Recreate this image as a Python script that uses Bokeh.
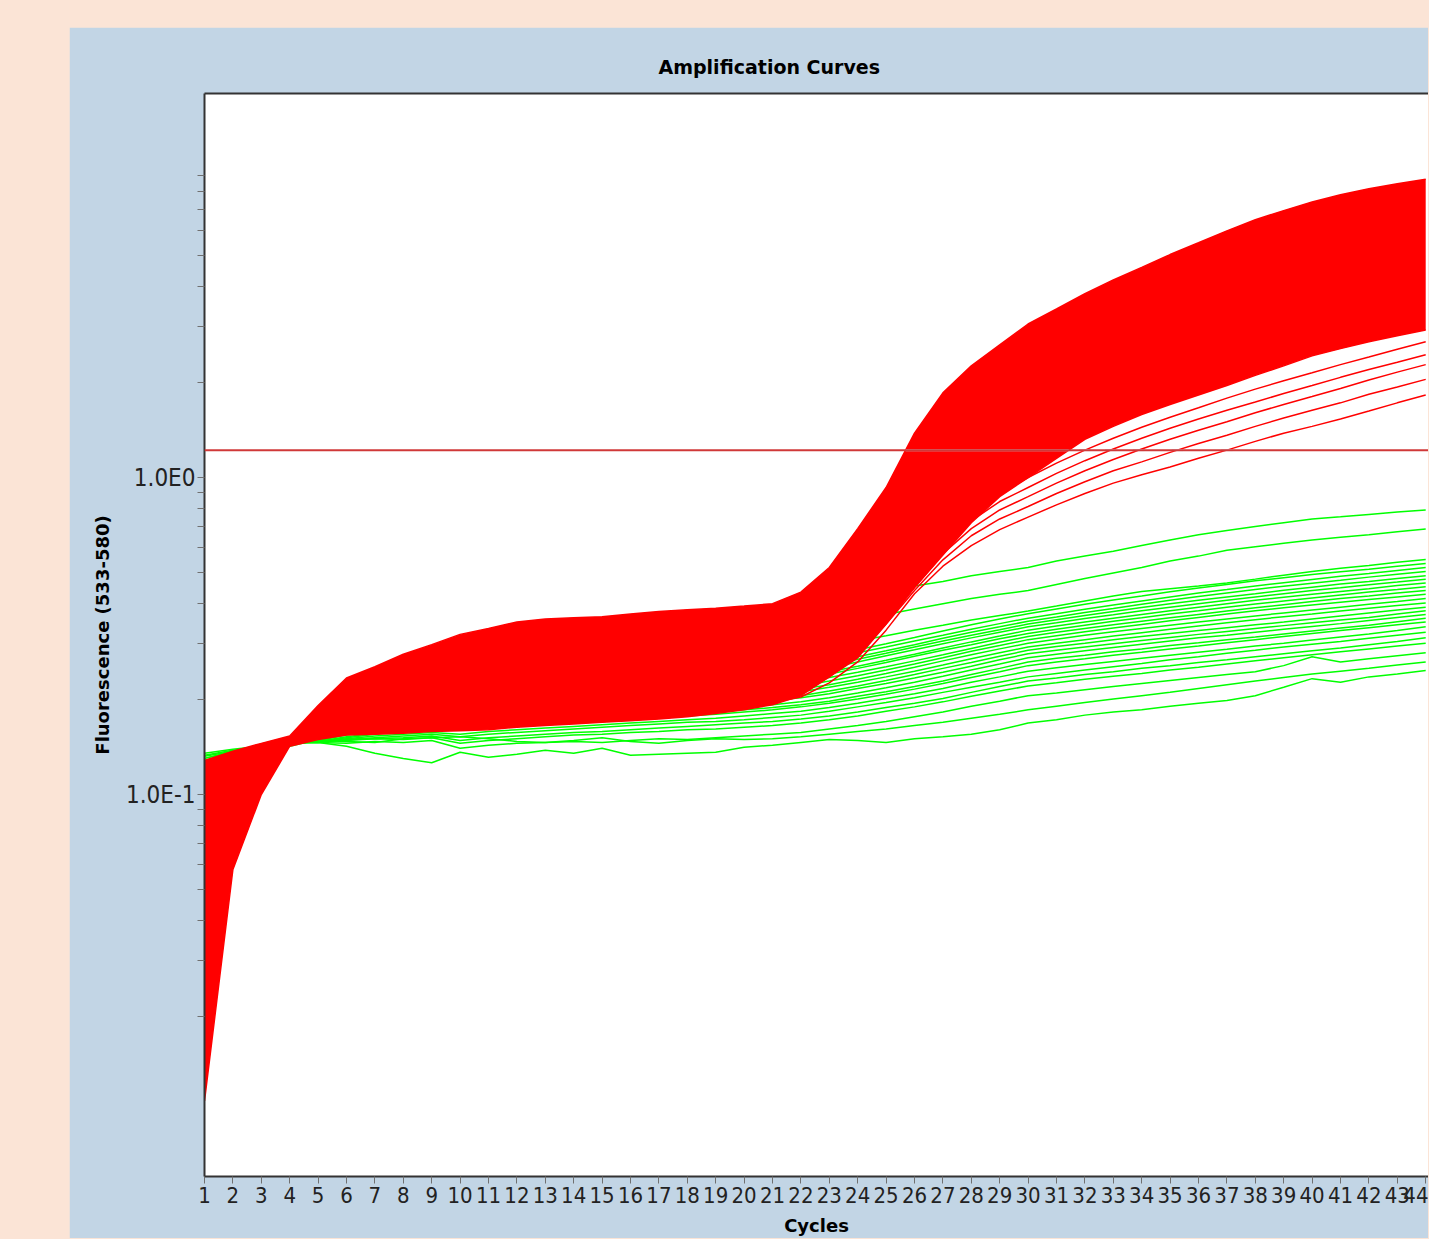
import numpy as np
from bokeh.plotting import figure
from bokeh.models import Range1d, FixedTicker, Span, LinearAxis
from bokeh.embed import file_html
from bokeh.resources import INLINE

# ---------------- data ----------------
cycles = list(range(1, 45))

# dense band of positive samples (upper / lower envelope)
red_upper = [0.128, 0.137, 0.145, 0.153, 0.191, 0.233, 0.253, 0.277, 0.297, 0.320,
             0.334, 0.350, 0.358, 0.361, 0.364, 0.371, 0.378, 0.383, 0.387, 0.393,
             0.400, 0.435, 0.520, 0.690, 0.930, 1.380, 1.850, 2.250, 2.620, 3.050,
             3.400, 3.800, 4.200, 4.600, 5.050, 5.500, 6.000, 6.500, 6.950, 7.400,
             7.800, 8.150, 8.450, 8.720]
red_lower = [0.0108, 0.058, 0.100, 0.142, 0.149, 0.154, 0.155, 0.156, 0.158, 0.159,
             0.160, 0.163, 0.165, 0.167, 0.169, 0.171, 0.173, 0.176, 0.180, 0.185,
             0.192, 0.205, 0.235, 0.270, 0.345, 0.450, 0.570, 0.720, 0.870, 1.000,
             1.150, 1.320, 1.450, 1.580, 1.700, 1.820, 1.950, 2.100, 2.250, 2.420,
             2.550, 2.680, 2.800, 2.920]

# late positive samples below the band
red_late_1 = [0.015, 0.070, 0.112, 0.146, 0.152, 0.157, 0.158, 0.160, 0.162, 0.163,
              0.165, 0.167, 0.169, 0.171, 0.173, 0.175, 0.177, 0.180, 0.184, 0.189,
              0.195, 0.203, 0.225, 0.262, 0.330, 0.430, 0.525, 0.610, 0.685, 0.750,
              0.820, 0.890, 0.960, 1.020, 1.080, 1.150, 1.220, 1.300, 1.380, 1.450,
              1.530, 1.620, 1.720, 1.820]
red_late_2 = [0.025, 0.075, 0.115, 0.147, 0.153, 0.158, 0.160, 0.162, 0.164, 0.166,
              0.168, 0.170, 0.172, 0.174, 0.176, 0.178, 0.181, 0.184, 0.188, 0.193,
              0.199, 0.210, 0.235, 0.275, 0.345, 0.440, 0.550, 0.655, 0.740, 0.810,
              0.890, 0.970, 1.050, 1.120, 1.200, 1.280, 1.360, 1.450, 1.540, 1.630,
              1.720, 1.830, 1.930, 2.040]
red_late_3 = [0.040, 0.082, 0.118, 0.148, 0.155, 0.160, 0.162, 0.164, 0.166, 0.168,
              0.170, 0.172, 0.174, 0.177, 0.179, 0.181, 0.184, 0.187, 0.191, 0.196,
              0.203, 0.215, 0.242, 0.285, 0.355, 0.450, 0.575, 0.690, 0.790, 0.870,
              0.960, 1.050, 1.140, 1.230, 1.320, 1.410, 1.500, 1.600, 1.700, 1.800,
              1.910, 2.030, 2.150, 2.270]
red_late_4 = [0.030, 0.078, 0.117, 0.147, 0.156, 0.162, 0.164, 0.166, 0.168, 0.170,
              0.172, 0.175, 0.177, 0.179, 0.182, 0.184, 0.187, 0.190, 0.194, 0.200,
              0.207, 0.220, 0.250, 0.295, 0.365, 0.460, 0.600, 0.730, 0.840, 0.930,
              1.030, 1.130, 1.230, 1.330, 1.430, 1.530, 1.630, 1.730, 1.840, 1.950,
              2.070, 2.190, 2.310, 2.440]
red_late_5 = [0.050, 0.088, 0.120, 0.148, 0.158, 0.164, 0.166, 0.168, 0.170, 0.172,
              0.175, 0.177, 0.180, 0.182, 0.185, 0.188, 0.190, 0.194, 0.198, 0.204,
              0.212, 0.226, 0.258, 0.305, 0.375, 0.470, 0.620, 0.770, 0.890, 1.000,
              1.110, 1.220, 1.330, 1.440, 1.550, 1.660, 1.780, 1.900, 2.020, 2.140,
              2.270, 2.400, 2.540, 2.680]

# negative samples
green_01 = [0.133, 0.138, 0.142, 0.147, 0.180, 0.210, 0.230, 0.245, 0.260, 0.270,
            0.280, 0.290, 0.300, 0.310, 0.318, 0.326, 0.334, 0.342, 0.355, 0.368,
            0.380, 0.395, 0.410, 0.425, 0.440, 0.455, 0.470, 0.490, 0.505, 0.520,
            0.545, 0.565, 0.585, 0.610, 0.635, 0.660, 0.680, 0.700, 0.720, 0.740,
            0.752, 0.765, 0.778, 0.790]
green_02 = [0.128, 0.135, 0.140, 0.146, 0.168, 0.190, 0.205, 0.215, 0.225, 0.233,
            0.240, 0.247, 0.254, 0.260, 0.266, 0.273, 0.280, 0.288, 0.296, 0.305,
            0.315, 0.327, 0.340, 0.355, 0.370, 0.385, 0.400, 0.415, 0.428, 0.440,
            0.460, 0.480, 0.500, 0.520, 0.545, 0.565, 0.590, 0.605, 0.620, 0.635,
            0.648, 0.660, 0.674, 0.688]
green_03 = [0.112, 0.125, 0.135, 0.143, 0.160, 0.178, 0.190, 0.198, 0.205, 0.212,
            0.218, 0.224, 0.230, 0.235, 0.240, 0.245, 0.250, 0.256, 0.262, 0.268,
            0.276, 0.285, 0.295, 0.305, 0.317, 0.330, 0.342, 0.355, 0.367, 0.379,
            0.393, 0.408, 0.423, 0.437, 0.446, 0.455, 0.465, 0.478, 0.492, 0.505,
            0.517, 0.528, 0.540, 0.551]
green_04 = [0.118, 0.130, 0.138, 0.146, 0.158, 0.172, 0.182, 0.190, 0.196, 0.200,
            0.205, 0.210, 0.214, 0.218, 0.222, 0.227, 0.232, 0.236, 0.240, 0.245,
            0.250, 0.258, 0.268, 0.280, 0.292, 0.305, 0.318, 0.332, 0.346, 0.360,
            0.372, 0.384, 0.396, 0.408, 0.420, 0.432, 0.443, 0.455, 0.466, 0.477,
            0.488, 0.498, 0.509, 0.520]
green_05 = [0.090, 0.118, 0.133, 0.144, 0.155, 0.168, 0.177, 0.184, 0.190, 0.195,
            0.200, 0.204, 0.208, 0.212, 0.216, 0.220, 0.224, 0.228, 0.232, 0.236,
            0.240, 0.247, 0.256, 0.267, 0.279, 0.292, 0.305, 0.318, 0.331, 0.345,
            0.356, 0.367, 0.378, 0.389, 0.400, 0.410, 0.420, 0.430, 0.441, 0.451,
            0.461, 0.470, 0.480, 0.490]
green_06 = [0.070, 0.108, 0.130, 0.143, 0.152, 0.164, 0.172, 0.179, 0.185, 0.190,
            0.194, 0.198, 0.202, 0.205, 0.209, 0.212, 0.215, 0.219, 0.222, 0.226,
            0.230, 0.236, 0.244, 0.254, 0.265, 0.277, 0.290, 0.303, 0.316, 0.330,
            0.340, 0.350, 0.360, 0.370, 0.380, 0.390, 0.400, 0.410, 0.419, 0.428,
            0.437, 0.446, 0.456, 0.465]
green_07 = [0.105, 0.124, 0.134, 0.144, 0.151, 0.161, 0.168, 0.174, 0.180, 0.185,
            0.188, 0.191, 0.194, 0.197, 0.200, 0.203, 0.206, 0.209, 0.212, 0.216,
            0.220, 0.226, 0.234, 0.243, 0.253, 0.264, 0.276, 0.289, 0.302, 0.315,
            0.325, 0.334, 0.343, 0.352, 0.361, 0.370, 0.379, 0.388, 0.397, 0.406,
            0.415, 0.423, 0.432, 0.440]
green_08 = [0.060, 0.100, 0.127, 0.142, 0.149, 0.158, 0.164, 0.169, 0.174, 0.178,
            0.181, 0.184, 0.187, 0.190, 0.193, 0.195, 0.198, 0.200, 0.203, 0.206,
            0.210, 0.215, 0.222, 0.231, 0.241, 0.252, 0.264, 0.276, 0.288, 0.300,
            0.309, 0.318, 0.326, 0.334, 0.342, 0.350, 0.358, 0.366, 0.374, 0.382,
            0.390, 0.398, 0.406, 0.415]
green_09 = [0.108, 0.126, 0.135, 0.144, 0.149, 0.156, 0.161, 0.165, 0.169, 0.172,
            0.175, 0.177, 0.180, 0.182, 0.185, 0.187, 0.190, 0.192, 0.195, 0.197,
            0.200, 0.205, 0.212, 0.220, 0.229, 0.239, 0.250, 0.261, 0.273, 0.285,
            0.293, 0.300, 0.308, 0.315, 0.322, 0.329, 0.336, 0.343, 0.350, 0.358,
            0.366, 0.374, 0.382, 0.390]
green_10 = [0.115, 0.129, 0.137, 0.145, 0.148, 0.154, 0.158, 0.161, 0.164, 0.166,
            0.169, 0.171, 0.173, 0.175, 0.177, 0.179, 0.181, 0.184, 0.186, 0.189,
            0.192, 0.196, 0.202, 0.209, 0.217, 0.226, 0.236, 0.247, 0.258, 0.270,
            0.277, 0.284, 0.291, 0.298, 0.305, 0.312, 0.318, 0.325, 0.332, 0.339,
            0.346, 0.354, 0.362, 0.370]
green_11 = [0.125, 0.133, 0.139, 0.145, 0.147, 0.151, 0.155, 0.158, 0.160, 0.160,
            0.162, 0.164, 0.166, 0.168, 0.170, 0.172, 0.174, 0.177, 0.179, 0.182,
            0.185, 0.189, 0.194, 0.200, 0.207, 0.215, 0.224, 0.234, 0.244, 0.255,
            0.262, 0.268, 0.275, 0.281, 0.288, 0.294, 0.301, 0.308, 0.315, 0.322,
            0.329, 0.336, 0.343, 0.350]
green_12 = [0.120, 0.131, 0.138, 0.145, 0.146, 0.149, 0.151, 0.153, 0.155, 0.152,
            0.155, 0.157, 0.159, 0.161, 0.163, 0.165, 0.167, 0.169, 0.170, 0.172,
            0.175, 0.178, 0.183, 0.189, 0.195, 0.202, 0.210, 0.218, 0.226, 0.235,
            0.241, 0.247, 0.253, 0.259, 0.266, 0.272, 0.279, 0.285, 0.292, 0.298,
            0.304, 0.311, 0.318, 0.325]
green_13 = [0.130, 0.136, 0.140, 0.146, 0.147, 0.148, 0.150, 0.149, 0.151, 0.145,
            0.148, 0.150, 0.152, 0.154, 0.155, 0.157, 0.158, 0.160, 0.161, 0.163,
            0.165, 0.168, 0.172, 0.177, 0.183, 0.189, 0.196, 0.204, 0.212, 0.220,
            0.225, 0.231, 0.236, 0.241, 0.247, 0.252, 0.258, 0.264, 0.270, 0.276,
            0.282, 0.288, 0.294, 0.300]
green_14 = [0.135, 0.139, 0.142, 0.147, 0.146, 0.145, 0.147, 0.146, 0.148, 0.140,
            0.143, 0.145, 0.146, 0.147, 0.146, 0.148, 0.150, 0.149, 0.151, 0.153,
            0.155, 0.157, 0.161, 0.165, 0.170, 0.176, 0.182, 0.190, 0.197, 0.205,
            0.209, 0.214, 0.219, 0.224, 0.229, 0.234, 0.239, 0.244, 0.255, 0.272,
            0.262, 0.268, 0.274, 0.280]
green_15 = [0.130, 0.137, 0.142, 0.146, 0.148, 0.147, 0.146, 0.150, 0.151, 0.152,
            0.150, 0.147, 0.146, 0.148, 0.151, 0.147, 0.145, 0.148, 0.150, 0.149,
            0.150, 0.152, 0.155, 0.158, 0.161, 0.165, 0.169, 0.174, 0.179, 0.185,
            0.190, 0.195, 0.200, 0.205, 0.210, 0.216, 0.222, 0.228, 0.234, 0.240,
            0.245, 0.250, 0.256, 0.262]
green_16 = [0.110, 0.128, 0.138, 0.145, 0.146, 0.142, 0.135, 0.130, 0.126, 0.136,
            0.131, 0.134, 0.138, 0.135, 0.140, 0.133, 0.134, 0.135, 0.136, 0.141,
            0.143, 0.146, 0.149, 0.148, 0.146, 0.150, 0.152, 0.155, 0.160, 0.168,
            0.172, 0.178, 0.182, 0.185, 0.190, 0.194, 0.198, 0.205, 0.218, 0.232,
            0.226, 0.235, 0.240, 0.246]
green_17 = [0.122, 0.132, 0.139, 0.146, 0.160, 0.174, 0.184, 0.192, 0.198, 0.203,
            0.208, 0.213, 0.217, 0.221, 0.226, 0.231, 0.236, 0.240, 0.245, 0.250,
            0.256, 0.264, 0.274, 0.286, 0.299, 0.313, 0.328, 0.343, 0.358, 0.372,
            0.385, 0.398, 0.411, 0.423, 0.436, 0.448, 0.460, 0.472, 0.483, 0.494,
            0.504, 0.514, 0.525, 0.535]
green_18 = [0.100, 0.122, 0.135, 0.145, 0.157, 0.170, 0.179, 0.186, 0.192, 0.197,
            0.202, 0.206, 0.210, 0.214, 0.218, 0.222, 0.226, 0.230, 0.234, 0.239,
            0.244, 0.251, 0.261, 0.272, 0.284, 0.297, 0.311, 0.325, 0.338, 0.352,
            0.363, 0.375, 0.386, 0.398, 0.410, 0.421, 0.432, 0.443, 0.454, 0.464,
            0.474, 0.485, 0.495, 0.505]
green_19 = [0.085, 0.115, 0.132, 0.144, 0.154, 0.166, 0.175, 0.182, 0.187, 0.192,
            0.196, 0.200, 0.204, 0.208, 0.212, 0.215, 0.219, 0.223, 0.227, 0.231,
            0.235, 0.242, 0.251, 0.262, 0.274, 0.286, 0.299, 0.312, 0.325, 0.338,
            0.348, 0.359, 0.369, 0.380, 0.390, 0.400, 0.410, 0.420, 0.430, 0.440,
            0.449, 0.459, 0.468, 0.478]
green_20 = [0.098, 0.120, 0.133, 0.144, 0.152, 0.163, 0.171, 0.177, 0.182, 0.187,
            0.191, 0.194, 0.198, 0.201, 0.205, 0.208, 0.211, 0.215, 0.218, 0.222,
            0.226, 0.232, 0.240, 0.250, 0.261, 0.273, 0.285, 0.297, 0.310, 0.322,
            0.332, 0.342, 0.352, 0.361, 0.371, 0.380, 0.390, 0.399, 0.408, 0.417,
            0.426, 0.435, 0.443, 0.452]
green_21 = [0.078, 0.110, 0.130, 0.143, 0.150, 0.160, 0.167, 0.172, 0.177, 0.181,
            0.184, 0.187, 0.190, 0.193, 0.196, 0.199, 0.202, 0.205, 0.208, 0.211,
            0.215, 0.220, 0.228, 0.237, 0.247, 0.258, 0.270, 0.283, 0.295, 0.308,
            0.317, 0.326, 0.335, 0.344, 0.353, 0.362, 0.371, 0.380, 0.388, 0.396,
            0.404, 0.412, 0.420, 0.428]
green_22 = [0.112, 0.127, 0.136, 0.144, 0.149, 0.157, 0.163, 0.167, 0.171, 0.175,
            0.178, 0.181, 0.183, 0.186, 0.189, 0.191, 0.194, 0.197, 0.200, 0.203,
            0.206, 0.211, 0.218, 0.226, 0.235, 0.245, 0.256, 0.268, 0.280, 0.292,
            0.300, 0.308, 0.316, 0.324, 0.332, 0.340, 0.348, 0.356, 0.364, 0.371,
            0.379, 0.387, 0.395, 0.402]
green_23 = [0.118, 0.130, 0.138, 0.145, 0.148, 0.155, 0.160, 0.164, 0.167, 0.170,
            0.173, 0.175, 0.178, 0.180, 0.182, 0.185, 0.187, 0.190, 0.192, 0.195,
            0.198, 0.202, 0.208, 0.216, 0.224, 0.233, 0.243, 0.254, 0.266, 0.278,
            0.285, 0.292, 0.299, 0.306, 0.313, 0.320, 0.327, 0.334, 0.341, 0.348,
            0.355, 0.362, 0.371, 0.380]
green_24 = [0.123, 0.132, 0.139, 0.145, 0.147, 0.152, 0.156, 0.159, 0.162, 0.163,
            0.165, 0.167, 0.169, 0.171, 0.173, 0.175, 0.177, 0.180, 0.182, 0.185,
            0.188, 0.192, 0.197, 0.204, 0.211, 0.219, 0.228, 0.239, 0.250, 0.262,
            0.269, 0.275, 0.282, 0.288, 0.295, 0.301, 0.308, 0.314, 0.321, 0.328,
            0.335, 0.342, 0.351, 0.360]
green_25 = [0.127, 0.134, 0.140, 0.146, 0.147, 0.150, 0.153, 0.155, 0.157, 0.155,
            0.158, 0.160, 0.162, 0.164, 0.166, 0.168, 0.170, 0.172, 0.174, 0.177,
            0.180, 0.183, 0.188, 0.194, 0.201, 0.208, 0.216, 0.226, 0.235, 0.245,
            0.251, 0.257, 0.263, 0.269, 0.275, 0.281, 0.287, 0.294, 0.300, 0.307,
            0.314, 0.321, 0.329, 0.338]
green_26 = [0.132, 0.137, 0.141, 0.146, 0.147, 0.149, 0.150, 0.151, 0.153, 0.148,
            0.151, 0.153, 0.155, 0.157, 0.158, 0.160, 0.162, 0.164, 0.166, 0.168,
            0.170, 0.173, 0.177, 0.182, 0.188, 0.194, 0.201, 0.210, 0.219, 0.228,
            0.233, 0.239, 0.244, 0.250, 0.255, 0.261, 0.266, 0.272, 0.278, 0.284,
            0.290, 0.297, 0.304, 0.312]

threshold = 1.22

y_tick_values = [0.1, 1.0]
y_tick_labels = ["1.0E-1", "1.0E0"]
y_minor_values = [0.02, 0.03, 0.04, 0.05, 0.06, 0.07, 0.08, 0.09,
                  0.2, 0.3, 0.4, 0.5, 0.6, 0.7, 0.8, 0.9,
                  2, 3, 4, 5, 6, 7, 8, 9]

title_text = "Amplification Curves"
x_label = "Cycles"
y_label = "Fluorescence (533-580)"

# ---------------- styling / layout ----------------
PEACH = "#FBE4D6"
PANEL = "#C2D5E5"
RED = "#FF0000"
GREEN = "#00FF00"
FRAME_LINE = "#333333"

fig_w, fig_h = 1359, 1211
b_left, b_right, b_top = 135, 0, 66
frame_h = 1083
b_bottom = fig_h - b_top - frame_h
px_per_cycle = 28.4
frame_w = fig_w - b_left - b_right
x_end = 1 + frame_w / px_per_cycle

p = figure(width=fig_w, height=fig_h,
           x_range=Range1d(1, x_end), y_range=Range1d(0.006237, 16.27),
           y_axis_type="log", output_backend="svg", toolbar_location=None,
           min_border_left=b_left, min_border_right=b_right,
           min_border_top=b_top, min_border_bottom=b_bottom,
           background_fill_color="white", border_fill_color=PANEL,
           outline_line_color=None,
           margin=(27, 0, 0, 69), title=title_text)

p.title.text_font = "DejaVu Sans"
p.title.text_font_style = "bold"
p.title.text_font_size = "19px"
p.title.text_color = "#000000"
p.title.align = "left"
p.title.offset = 454
p.title.standoff = 31

p.xgrid.visible = False
p.ygrid.visible = False

tick_font = "Liberation Sans Narrow, DejaVu Sans Condensed, Liberation Sans, sans-serif"

# bottom axis (cycles)
xa = p.below[0]
xa.ticker = FixedTicker(ticks=cycles, minor_ticks=[])
xa.axis_label = x_label
xa.axis_label_text_font = "DejaVu Sans"
xa.axis_label_text_font_style = "bold"
xa.axis_label_text_font_size = "18px"
xa.axis_label_text_color = "#000000"
xa.axis_label_standoff = 9
xa.major_label_text_font = tick_font
xa.major_label_text_font_size = "22px"
xa.major_label_text_color = "#222222"
xa.major_label_standoff = 3
xa.major_tick_out = 7
xa.major_tick_in = 0
xa.major_tick_line_color = "#707070"
xa.axis_line_color = FRAME_LINE
xa.axis_line_width = 2

# left axis (fluorescence, log)
ya = p.left[0]
ya.ticker = FixedTicker(ticks=y_tick_values, minor_ticks=y_minor_values)
ya.major_label_overrides = dict(zip(y_tick_values, y_tick_labels))
ya.axis_label = y_label
ya.axis_label_text_font = "DejaVu Sans"
ya.axis_label_text_font_style = "bold"
ya.axis_label_text_font_size = "18px"
ya.axis_label_text_color = "#000000"
ya.axis_label_standoff = 10
ya.major_label_text_font = tick_font
ya.major_label_text_font_size = "24px"
ya.major_label_text_color = "#222222"
ya.major_label_standoff = 2
ya.major_tick_out = 7
ya.major_tick_in = 0
ya.minor_tick_out = 7
ya.minor_tick_in = 0
ya.major_tick_line_color = "#707070"
ya.minor_tick_line_color = "#707070"
ya.axis_line_color = FRAME_LINE
ya.axis_line_width = 2

# top border of the plotting area (the right side runs off the picture)
top_axis = LinearAxis(ticker=FixedTicker(ticks=[], minor_ticks=[]),
                      axis_line_color=FRAME_LINE, axis_line_width=2,
                      major_tick_out=0, major_tick_in=0,
                      minor_tick_out=0, minor_tick_in=0, major_label_standoff=0)
p.add_layout(top_axis, "above")

# ---------------- marks ----------------
greens = [green_01, green_02, green_03, green_04, green_05, green_06, green_07,
          green_08, green_09, green_10, green_11, green_12, green_13, green_14,
          green_15, green_16, green_17, green_18, green_19, green_20, green_21,
          green_22, green_23, green_24, green_25, green_26]
for g in greens:
    p.line(cycles, g, line_color=GREEN, line_width=1.5)

p.varea(x=cycles, y1=red_lower, y2=red_upper, fill_color=RED, fill_alpha=1.0)
p.line(cycles, red_upper, line_color=RED, line_width=1.5)
p.line(cycles, red_lower, line_color=RED, line_width=1.5)

red_late = [red_late_1, red_late_2, red_late_3, red_late_4, red_late_5]
for r in red_late:
    p.line(cycles, r, line_color=RED, line_width=1.5)

# threshold line (red over white, light where it crosses red curves)
p.add_layout(Span(location=threshold, dimension="width", line_color="#D03838", line_width=2))
lt = np.log10(threshold)
cx = np.array(cycles, dtype=float)
x_a = float(np.interp(lt, np.log10(red_upper), cx))
x_b = float(np.interp(lt, np.log10(red_lower), cx))
seg_x0 = [x_a]
seg_x1 = [x_b]
for r in red_late:
    xc = float(np.interp(lt, np.log10(r), cx))
    seg_x0.append(xc - 0.2)
    seg_x1.append(xc + 0.2)
p.segment(x0=seg_x0, y0=[threshold] * len(seg_x0), x1=seg_x1, y1=[threshold] * len(seg_x0),
          line_color="#C6D6E6", line_width=2)

html = file_html(p, INLINE, title=title_text)
page_css = ("<style>html, body { background-color: %s !important; overflow: hidden; }</style>"
            % PEACH)
html = html.replace("</head>", page_css + "</head>", 1)
open("out.html", "w").write(html)
